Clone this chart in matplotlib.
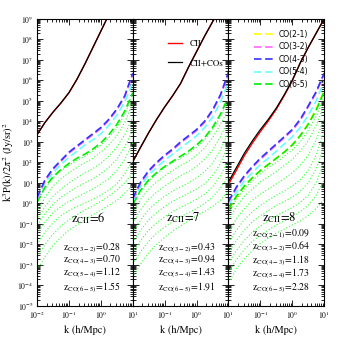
import numpy as np
import matplotlib.pyplot as plt
from matplotlib.ticker import LogLocator, NullFormatter, FixedLocator, FixedFormatter

plt.rcParams['font.family'] = 'STIXGeneral'
plt.rcParams['mathtext.fontset'] = 'stix'

# log10 k (h/Mpc), shared grid of all the curves
logk = [-2, -1.75, -1.5, -1.25, -1, -0.75, -0.5, -0.25, 0, 0.25, 0.5, 0.75, 1]

# all curve values below are log10 of k^3 P(k)/2pi^2 in (Jy/sr)^2
# ---- z_CII = 6
tot_6 = [3.35, 3.95, 4.45, 4.9, 5.4, 6.05, 6.8, 7.6, 8.4, 9.2, 10.0, 10.8, 11.6]
cii_6 = tot_6
co32_6 = [0.25, 1.1, 1.65, 2.05, 2.45, 2.75, 3.05, 3.35, 3.65, 4.05, 4.55, 5.2, 6.3]
co43_6 = [0.3, 1.15, 1.7, 2.1, 2.5, 2.8, 3.1, 3.4, 3.7, 4.1, 4.6, 5.25, 6.35]
co54_6 = [0.2, 1.0, 1.5, 1.9, 2.25, 2.55, 2.85, 3.1, 3.4, 3.8, 4.3, 4.95, 5.9]
co65_6 = [0.05, 0.8, 1.3, 1.65, 1.95, 2.2, 2.4, 2.65, 2.95, 3.35, 3.85, 4.5, 5.4]
dots_6 = [
    [0.0, 0.75, 1.25, 1.6, 1.85, 2.1, 2.3, 2.55, 2.85, 3.2, 3.7, 4.35, 5.3],
    [-0.4, 0.3, 0.85, 1.2, 1.5, 1.75, 1.98, 2.2, 2.5, 2.85, 3.3, 3.95, 4.9],
    [-0.8, -0.15, 0.35, 0.7, 1.0, 1.25, 1.49, 1.7, 1.95, 2.3, 2.75, 3.35, 4.2],
    [-1.05, -0.5, -0.05, 0.3, 0.55, 0.8, 1.0, 1.2, 1.45, 1.75, 2.15, 2.75, 3.6],
    [-1.45, -0.9, -0.45, -0.15, 0.1, 0.3, 0.51, 0.7, 0.95, 1.2, 1.6, 2.15, 2.95],
    [-2.0, -1.4, -0.95, -0.6, -0.35, -0.15, 0.02, 0.2, 0.4, 0.65, 0.95, 1.45, 2.12],
    [-2.6, -2.0, -1.5, -1.1, -0.8, -0.55, -0.32, -0.12, 0.1, 0.35, 0.65, 1.0, 1.5],
    [-3.25, -2.6, -2.05, -1.65, -1.3, -1.05, -0.8, -0.55, -0.33, -0.1, 0.15, 0.5, 0.9],
]

# ---- z_CII = 7
tot_7 = [2.03, 2.75, 3.45, 4.1, 4.7, 5.25, 5.85, 6.65, 7.4, 8.15, 8.85, 9.55, 10.2]
cii_7 = tot_7
co32_7 = [0.2, 1.0, 1.55, 1.95, 2.3, 2.6, 2.95, 3.25, 3.55, 3.95, 4.5, 5.25, 6.3]
co43_7 = [0.25, 1.05, 1.6, 2.0, 2.35, 2.65, 3.0, 3.3, 3.6, 4.0, 4.55, 5.3, 6.4]
co54_7 = [0.1, 0.85, 1.4, 1.75, 2.1, 2.4, 2.7, 3.0, 3.3, 3.7, 4.2, 4.95, 5.9]
co65_7 = [-0.05, 0.65, 1.15, 1.5, 1.8, 2.05, 2.3, 2.55, 2.85, 3.2, 3.7, 4.35, 5.2]
dots_7 = [
    [-0.1, 0.6, 1.1, 1.45, 1.75, 2.0, 2.2, 2.45, 2.75, 3.1, 3.6, 4.25, 5.0],
    [-0.45, 0.2, 0.7, 1.05, 1.35, 1.6, 1.85, 2.05, 2.35, 2.7, 3.2, 3.85, 4.6],
    [-0.95, -0.3, 0.2, 0.55, 0.85, 1.1, 1.35, 1.55, 1.8, 2.15, 2.6, 3.25, 4.1],
    [-1.4, -0.8, -0.3, 0.05, 0.35, 0.6, 0.8, 1.0, 1.25, 1.55, 1.95, 2.6, 3.5],
    [-1.9, -1.3, -0.8, -0.45, -0.15, 0.1, 0.3, 0.5, 0.7, 0.95, 1.35, 1.95, 2.9],
    [-2.4, -1.8, -1.3, -0.95, -0.65, -0.4, -0.2, 0.0, 0.2, 0.45, 0.8, 1.35, 2.1],
    [-2.95, -2.35, -1.85, -1.45, -1.15, -0.9, -0.65, -0.45, -0.25, 0.0, 0.3, 0.75, 1.35],
    [-3.6, -2.95, -2.4, -2.0, -1.65, -1.35, -1.1, -0.85, -0.6, -0.4, -0.15, 0.15, 0.6],
]

# ---- z_CII = 8
tot_8 = [1.05, 1.75, 2.45, 3.05, 3.6, 4.1, 4.65, 5.3, 6.0, 6.85, 7.6, 8.3, 9.0]
cii_8 = [0.92, 1.62, 2.33, 2.94, 3.5, 4.02, 4.59, 5.26, 5.98, 6.85, 7.6, 8.3, 9.0]
co21_8 = [-0.3, 0.3, 0.85, 1.25, 1.6, 1.9, 2.2, 2.5, 2.85, 3.3, 3.9, 4.6, 5.5]
co32_8 = [0.05, 0.75, 1.3, 1.75, 2.15, 2.5, 2.85, 3.2, 3.55, 4.05, 4.7, 5.4, 6.3]
co43_8 = [0.1, 0.8, 1.35, 1.8, 2.2, 2.55, 2.9, 3.25, 3.6, 4.1, 4.75, 5.45, 6.35]
co54_8 = [-0.1, 0.55, 1.1, 1.5, 1.9, 2.2, 2.55, 2.9, 3.25, 3.7, 4.3, 5.0, 5.95]
co65_8 = [-0.3, 0.35, 0.85, 1.25, 1.6, 1.9, 2.2, 2.5, 2.85, 3.3, 3.85, 4.55, 5.45]
dots_8 = [
    [-0.45, 0.2, 0.7, 1.1, 1.45, 1.75, 2.0, 2.3, 2.6, 3.0, 3.55, 4.25, 5.2],
    [-0.8, -0.15, 0.35, 0.7, 1.05, 1.3, 1.55, 1.85, 2.15, 2.55, 3.05, 3.8, 4.8],
    [-1.4, -0.75, -0.25, 0.15, 0.45, 0.7, 0.95, 1.2, 1.5, 1.85, 2.35, 3.1, 4.15],
    [-1.9, -1.3, -0.8, -0.4, -0.1, 0.15, 0.4, 0.6, 0.85, 1.15, 1.6, 2.35, 3.5],
    [-2.4, -1.8, -1.3, -0.9, -0.6, -0.35, -0.1, 0.1, 0.3, 0.6, 1.0, 1.7, 2.75],
    [-2.9, -2.3, -1.8, -1.4, -1.1, -0.85, -0.6, -0.4, -0.2, 0.05, 0.4, 1.0, 2.0],
    [-3.35, -2.75, -2.25, -1.85, -1.55, -1.3, -1.05, -0.85, -0.65, -0.4, -0.1, 0.4, 1.15],
    [-3.85, -3.2, -2.7, -2.3, -1.95, -1.7, -1.45, -1.25, -1.05, -0.85, -0.6, -0.25, 0.2],
]

z_cii = [6, 7, 8]
co_names = ['CO(2-1)', 'CO(3-2)', 'CO(4-3)', 'CO(5-4)', 'CO(6-5)']
z_co_6 = [None, '0.28', '0.70', '1.12', '1.55']
z_co_7 = [None, '0.43', '0.94', '1.43', '1.91']
z_co_8 = ['0.09', '0.64', '1.18', '1.73', '2.28']
co_colors = ['#ffff00', '#ff66ff', '#3333ff', '#66ffff', '#00ee00']

panels = [
    (tot_6, cii_6, [None, co32_6, co43_6, co54_6, co65_6], dots_6, z_co_6),
    (tot_7, cii_7, [None, co32_7, co43_7, co54_7, co65_7], dots_7, z_co_7),
    (tot_8, cii_8, [co21_8, co32_8, co43_8, co54_8, co65_8], dots_8, z_co_8),
]

k = 10.0 ** np.array(logk)

fig, axes = plt.subplots(1, 3, sharey=True, figsize=(3.43, 3.43), dpi=100)
fig.subplots_adjust(left=0.108, right=0.945, bottom=0.108, top=0.945, wspace=0)

for i, (ax, (tot, cii, cos, dots, zco)) in enumerate(zip(axes, panels)):
    # faint green dotted curves
    for d in dots:
        ax.plot(k, 10.0 ** np.array(d), color='#33ff33', ls=(0, (1, 1.8)), lw=0.8)
    # dashed CO lines, drawn from the lowest one up
    for j in [0, 4, 3, 1, 2]:
        if cos[j] is None:
            continue
        ax.plot(k, 10.0 ** np.array(cos[j]), color=co_colors[j],
                dashes=(4.5, 2.2), lw=1.2, label=co_names[j])
    ax.plot(k, 10.0 ** np.array(cii), color='red', lw=1.0, label='CII')
    ax.plot(k, 10.0 ** np.array(tot), color='black', lw=0.9, label='CII+COs')

    ax.set_xscale('log')
    ax.set_yscale('log')
    ax.set_xlim(1e-2, 1e1)
    ax.set_ylim(1e-5, 1e9)
    ax.tick_params(which='both', direction='in', top=True, right=True,
                   width=0.6, labelsize=5.5, pad=2.5)
    ax.tick_params(which='major', length=4)
    ax.tick_params(which='minor', length=2)
    ax.yaxis.set_major_locator(LogLocator(base=10, numticks=30))
    ax.yaxis.set_minor_locator(LogLocator(base=10, subs=np.arange(2, 10), numticks=200))
    ax.yaxis.set_minor_formatter(NullFormatter())
    ax.xaxis.set_minor_locator(LogLocator(base=10, subs=np.arange(2, 10), numticks=50))
    ax.xaxis.set_minor_formatter(NullFormatter())
    if i == 0:
        xt = [1e-2, 1e-1, 1e0, 1e1]
        xl = [r'$10^{-2}$', r'$10^{-1}$', r'$10^{0}$', r'$10^{1}$']
    else:
        xt = [1e-1, 1e0, 1e1]
        xl = [r'$10^{-1}$', r'$10^{0}$', r'$10^{1}$']
    ax.xaxis.set_major_locator(FixedLocator(xt))
    ax.xaxis.set_major_formatter(FixedFormatter(xl))
    for sp in ax.spines.values():
        sp.set_linewidth(0.8)

    ax.set_xlabel('k (h/Mpc)', fontsize=7.5, labelpad=3)

    ax.text(0.53, 0.307, r'$\mathrm{z}_{\mathrm{CII}}$=' + str(z_cii[i]),
            transform=ax.transAxes, fontsize=9, ha='center', va='center')
    rows = [(co_names[j], zco[j]) for j in range(5) if zco[j] is not None]
    if len(rows) == 5:
        ys = [0.251, 0.206, 0.157, 0.111, 0.063]
        x0 = 0.25
    else:
        ys = [0.202, 0.160, 0.115, 0.063]
        x0 = 0.27 if i == 0 else 0.26
    for (name, zv), y in zip(rows, ys):
        ax.text(x0, y, r'$\mathrm{z}_{\mathrm{' + name.replace('-', '\u2212') + '}}$=' + zv,
                transform=ax.transAxes, fontsize=7, ha='left', va='center')

axes[0].set_ylabel(r'k$^3$P(k)/2$\pi^2$ (Jy/sr)$^2$', fontsize=7.5, labelpad=1)

# legends
h, l = axes[1].get_legend_handles_labels()
sel = [l.index('CII'), l.index('CII+COs')]
axes[1].legend([h[s] for s in sel], [l[s] for s in sel], loc='upper left',
               bbox_to_anchor=(0.28, 0.955), frameon=False, fontsize=6.5,
               handlelength=1.6, labelspacing=1.2, handletextpad=0.8)
h, l = axes[2].get_legend_handles_labels()
sel = [l.index(n) for n in co_names]
axes[2].legend([h[s] for s in sel], [l[s] for s in sel], loc='upper left',
               bbox_to_anchor=(0.2, 0.985), frameon=False,
               prop={'family': 'DejaVu Sans', 'size': 5.5},
               handlelength=2.6, labelspacing=0.45, handletextpad=0.6)

fig.savefig('out.png', dpi=100)
